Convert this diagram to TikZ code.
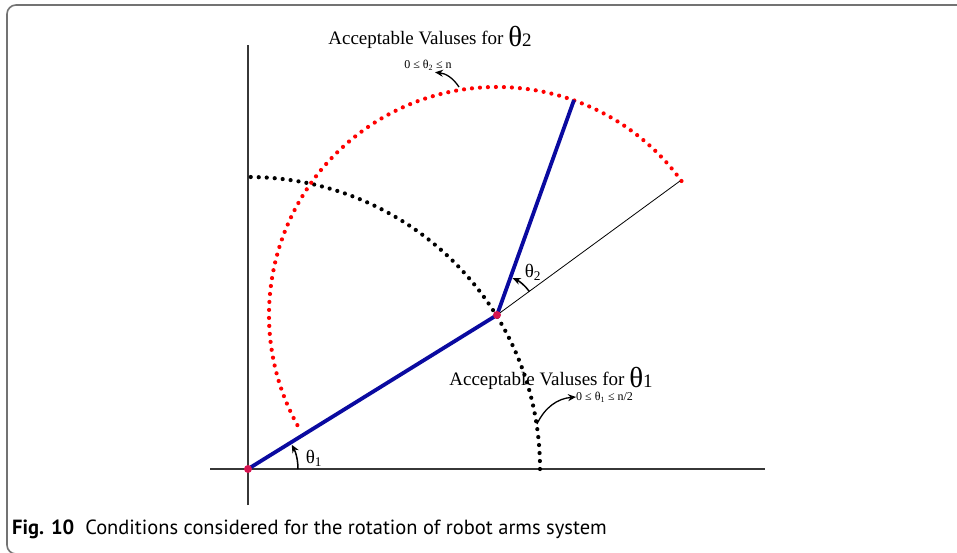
\documentclass[tikz,border=0pt]{standalone}
\usepackage{fontspec}
\setmainfont{Liberation Serif}
\newfontfamily\capfont{PT Sans}
\usetikzlibrary{arrows.meta}

\definecolor{linkblue}{RGB}{10,10,160}
\definecolor{jointred}{RGB}{215,20,80}
\definecolor{axisgray}{RGB}{55,55,55}
\definecolor{framegray}{RGB}{115,115,115}

\tikzset{
  axis/.style={axisgray, line width=1.3pt},
  armlink/.style={linkblue, line width=3.8pt},
  dotarc/.style={line width=4.2pt, line cap=round, dash pattern=on 0pt off 8pt},
  joint/.style={circle, fill=jointred, inner sep=0pt, minimum size=8pt},
  anglearrow/.style={line width=1.5pt, -{Stealth[length=8pt,width=7pt]}},
  bigtext/.style={font=\fontsize{19}{21}\selectfont},
  smalltext/.style={font=\fontsize{12}{14}\selectfont, inner sep=0pt}
}

\newcommand{\bigth}[1]{\raisebox{-2pt}{{\fontsize{29}{29}\selectfont θ}#1}}

\begin{document}
\begin{tikzpicture}[x=1pt, y=1pt]
  \useasboundingbox (0,0) rectangle (957,552);

  % frame and caption
  \draw[framegray, line width=1.6pt, rounded corners=9pt]
    (958,547) -- (7,547) -- (7,-2) -- (40,-2);
  \node[anchor=west, inner sep=0pt, font=\capfont\fontsize{20.5}{22}\selectfont] (caption) at (12,23)
    {\textbf{Fig. 10}\ \ Conditions considered for the rotation of robot arms system};

  \def\ra{292} \def\rb{228}

  \coordinate (base) at (248,83);
  \coordinate (elbow) at (497,237);
  \coordinate (hand) at (574,452);
  \coordinate (reach) at (680,371);

  % axes
  \draw[axis] (210,83) -- (765,83);
  \draw[axis] (248,47) -- (248,507);

  % ranges of the two joints
  \draw[dotarc, black] ([shift={(0:\ra)}]base) arc (0:90:\ra);
  \draw[dotarc, red] ([shift={(36:\rb)}]elbow) arc (36:209:\rb);

  % arms
  \draw[black, line width=0.8pt] (elbow) -- (reach);
  \draw[armlink] (base) -- (elbow);
  \draw[armlink] (elbow) -- (hand);
  \node[joint] (j0) at (base) {};
  \node[joint] (j1) at (elbow) {};

  % angles
  \draw[anglearrow] ([shift={(0:50)}]base) arc (0:29:50);
  \node[bigtext] (th1) at (314,94) {θ\textsubscript{1}};
  \draw[anglearrow] ([shift={(36:40)}]elbow) arc (36:67:40);
  \node[bigtext] (th2) at (533,280) {θ\textsubscript{2}};

  % labels of the ranges
  \node[bigtext] (rangetwo) at (430,515) {Acceptable Valuses for \bigth{2}};
  \node[smalltext] (condtwo) at (428,487) {0 ≤ θ\textsubscript{2} ≤ n};
  \coordinate (toptwo) at (459,465);
  \draw[anglearrow, line width=1.3pt] (toptwo) to[bend right=25] ([xshift=7pt, yshift=-2pt]condtwo.south);

  \node[bigtext] (rangeone) at (551,174) {Acceptable Valuses for \bigth{1}};
  \node[smalltext, anchor=west] (condone) at (576,155) {0 ≤ θ\textsubscript{1} ≤ n/2};
  \coordinate (sideone) at (537,128);
  \draw[anglearrow, line width=1.3pt] (sideone) to[bend left=30] (condone.west);
\end{tikzpicture}
\end{document}
